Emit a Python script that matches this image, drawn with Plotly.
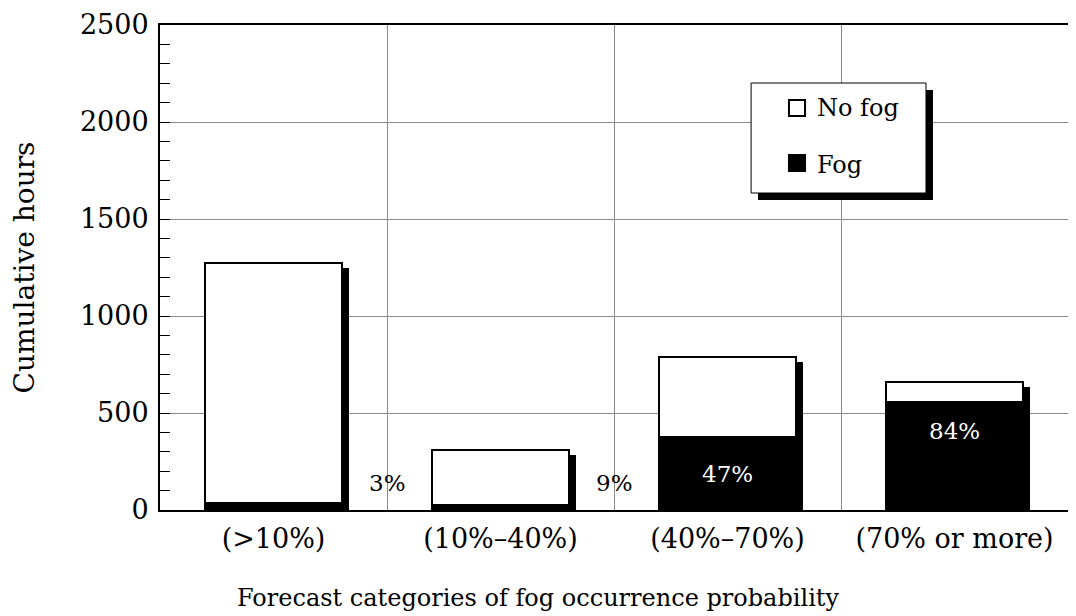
import plotly.graph_objects as go

CATEGORIES = ["(>10%)", "(10%–40%)", "(40%–70%)", "(70% or more)"]
TOTAL_HOURS = [1273, 309, 789, 660]
FOG_HOURS = [38, 28, 375, 558]
FOG_PCT_LABELS = ["3%", "9%", "47%", "84%"]

FONT = "DejaVu Serif"
BAR_W = 0.6
SHADOW_DX = 0.031   # shadow offset in category units
SHADOW_DY = 26      # shadow offset in hours

x = list(range(len(CATEGORIES)))
no_fog = [t - f for t, f in zip(TOTAL_HOURS, FOG_HOURS)]

fig = go.Figure()

# drop shadow behind each bar
fig.add_trace(go.Bar(
    x=[i + SHADOW_DX for i in x],
    y=TOTAL_HOURS,
    base=[-SHADOW_DY] * len(x),
    width=BAR_W,
    marker=dict(color="black", line=dict(width=0)),
    showlegend=False,
    hoverinfo="skip",
))

fig.add_trace(go.Bar(
    x=x,
    y=FOG_HOURS,
    base=[0] * len(x),
    width=BAR_W,
    name="Fog",
    marker=dict(color="black", line=dict(color="black", width=2)),
    showlegend=False,
))

fig.add_trace(go.Bar(
    x=x,
    y=no_fog,
    base=FOG_HOURS,
    width=BAR_W,
    name="No fog",
    marker=dict(color="white", line=dict(color="black", width=2)),
    showlegend=False,
))

# percentage labels: small ones sit beside the bar, big ones inside (white)
for i, (lab, fog) in enumerate(zip(FOG_PCT_LABELS, FOG_HOURS)):
    inside = fog > 200
    fig.add_annotation(
        x=i if inside else i + 0.5,
        y=fog * (0.5 if fog < 450 else 0.73) if inside else 140,
        text=lab,
        showarrow=False,
        font=dict(family=FONT, size=23, color="white" if inside else "black"),
    )

# hand-drawn legend box with shadow
legend_shapes = [
    dict(x0=0.6586, x1=0.8513, y0=0.639, y1=0.866, fillcolor="black", line=dict(width=0)),
    dict(x0=0.651, x1=0.8436, y0=0.6536, y1=0.8804, fillcolor="white", line=dict(color="black", width=1)),
    dict(x0=0.6927, x1=0.7104, y0=0.8124, y1=0.8454, fillcolor="white", line=dict(color="black", width=2)),
    dict(x0=0.6927, x1=0.7104, y0=0.699, y1=0.732, fillcolor="black", line=dict(color="black", width=2)),
]
for s in legend_shapes:
    fig.add_shape(type="rect", xref="paper", yref="paper", layer="above", **s)

for txt, yy in [("No fog", 0.829), ("Fog", 0.711)]:
    fig.add_annotation(
        x=0.7214, y=yy, xref="paper", yref="paper",
        text=txt, showarrow=False, xanchor="left", yanchor="middle",
        font=dict(family=FONT, size=24, color="black"),
    )

# x-axis title, centred on the whole figure like the original
fig.add_annotation(
    x=0.416, y=-0.182, xref="paper", yref="paper",
    text="Forecast categories of fog occurrence probability",
    showarrow=False, yanchor="middle",
    font=dict(family=FONT, size=24, color="black"),
)

# page body has an 8px margin, so the figure is 8px smaller than the window
fig.update_layout(
    width=1068,
    height=608,
    barmode="overlay",
    bargap=0,
    plot_bgcolor="white",
    paper_bgcolor="white",
    font=dict(family=FONT, color="black"),
    margin=dict(l=152, r=8, t=17, b=106, autoexpand=False),
    xaxis=dict(
        range=[-0.5, 3.5],
        tickmode="array",
        tickvals=x,
        ticktext=CATEGORIES,
        tickfont=dict(size=27),
        ticks="",
        ticklabelstandoff=4,
        showgrid=False,
        zeroline=False,
        showline=True,
        linecolor="black",
        linewidth=2,
        mirror=True,
        automargin=False,
        minor=dict(tickmode="array", tickvals=[0.5, 1.5, 2.5], showgrid=True,
                   gridcolor="#8a8a8a", gridwidth=1),
    ),
    yaxis=dict(
        range=[0, 2500],
        dtick=500,
        tickfont=dict(size=27),
        ticks="inside",
        ticklen=10,
        tickcolor="black",
        ticklabelstandoff=4,
        showgrid=True,
        gridcolor="#8a8a8a",
        gridwidth=1,
        zeroline=False,
        showline=True,
        linecolor="black",
        linewidth=2,
        mirror=True,
        automargin=False,
        title=dict(text="Cumulative hours", font=dict(size=28), standoff=42),
        minor=dict(dtick=100, ticks="inside", ticklen=10, tickcolor="black", showgrid=False),
    ),
)

fig.write_html("out.html")
